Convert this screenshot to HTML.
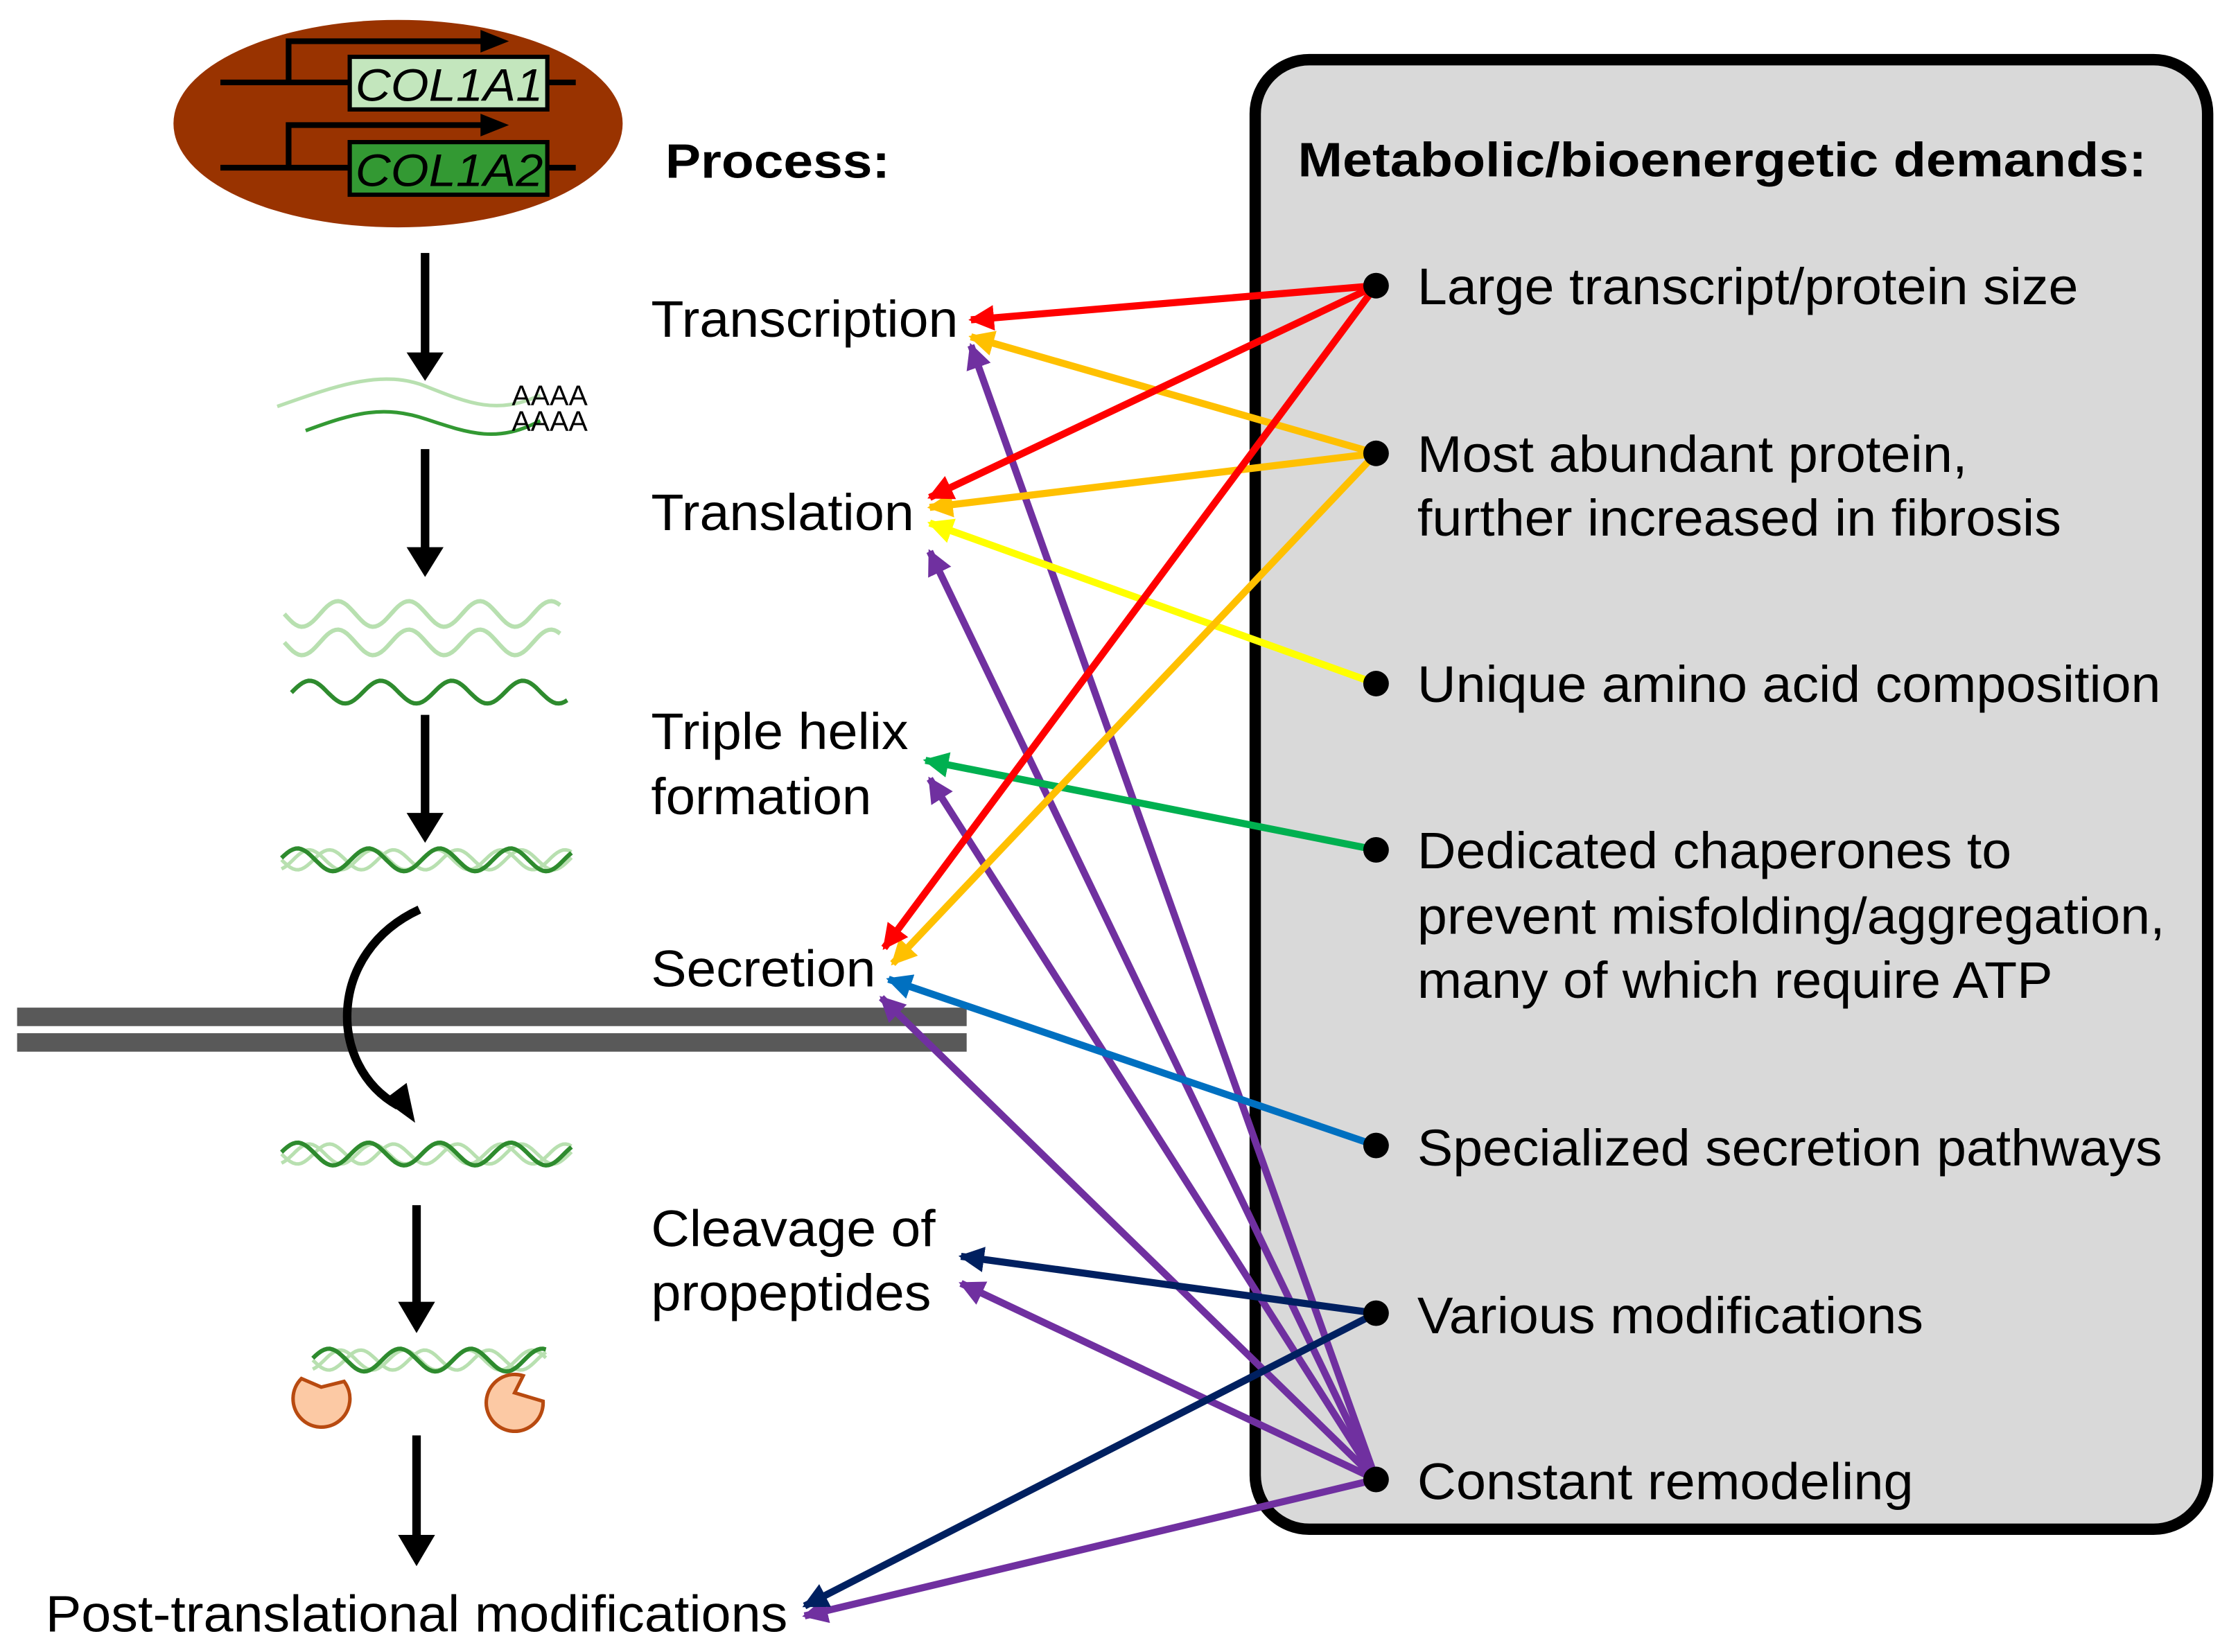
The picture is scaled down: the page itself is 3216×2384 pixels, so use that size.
<!DOCTYPE html>
<html><head><meta charset="utf-8"><style>html,body{margin:0;padding:0;background:#fff}svg{display:block}</style></head>
<body>
<svg id="s" xmlns="http://www.w3.org/2000/svg" width="3216" height="2384" viewBox="0 0 1568 1162.4" font-family="Liberation Sans, Arial, sans-serif">
<defs></defs>
<rect width="1568" height="1162.4" fill="#fff"/>
<ellipse cx="280" cy="87" rx="158" ry="73" fill="#993300"/>
<g stroke="#000" stroke-width="4" fill="none">
<line x1="155" y1="58" x2="405" y2="58"/><line x1="155" y1="118" x2="405" y2="118"/>
<polyline points="203,58 203,29 340,29"/><polyline points="203,118 203,88 340,88"/>
</g>
<path d="M338,21L358,29L338,37z M338,80L358,88L338,96z"/>
<rect x="246" y="40" width="139" height="37" fill="#c3e6bd" stroke="#000" stroke-width="3"/>
<rect x="246" y="100" width="139" height="37" fill="#339933" stroke="#000" stroke-width="3"/>
<text x="250" y="71" font-size="32" font-style="italic" textLength="132" lengthAdjust="spacingAndGlyphs">COL1A1</text>
<text x="250" y="131" font-size="32" font-style="italic" textLength="132" lengthAdjust="spacingAndGlyphs">COL1A2</text>
<g fill="#000">
<rect x="296" y="178" width="6" height="72"/><path d="M286,248L312,248L299,268z"/>
<rect x="296" y="316" width="6" height="72"/><path d="M286,385L312,385L299,406z"/>
<rect x="296" y="503" width="6" height="72"/><path d="M286,572L312,572L299,593z"/>
<rect x="290" y="848" width="6" height="70"/><path d="M280,916L306,916L293,938z"/>
<rect x="290" y="1010" width="6" height="72"/><path d="M280,1080L306,1080L293,1102z"/>
</g>
<path d="M195,286 C240,270 270,260 300,272 S350,292 380,278" stroke="#b8e0b0" stroke-width="2.5" fill="none"/>
<path d="M215,303 C250,290 270,285 300,295 S350,312 380,296" stroke="#339933" stroke-width="2.5" fill="none"/>
<text x="360" y="285" font-size="20">AAAA</text>
<text x="360" y="303" font-size="20">AAAA</text>
<g id="waves"></g>
<rect x="12" y="709" width="668" height="13" fill="#595959"/>
<rect x="12" y="727" width="668" height="13" fill="#595959"/>
<path d="M295,640 C230,670 230,750 280,778" stroke="#000" stroke-width="6" fill="none"/>
<path d="M270,774L292,790L286,762z"/>
<g fill="#fcc9a4" stroke="#b84a10" stroke-width="2.5">
<path d="M226,976 L212,970 A20,20 0 1,0 242,972 Z"/>
<path d="M362,980 L382,986 A20,20 0 1,1 368,968 Z"/>
</g>
<text x="468" y="125" font-size="34" font-weight="bold" textLength="158" lengthAdjust="spacingAndGlyphs">Process:</text>
<g font-size="36">
<text x="458" y="237" textLength="216" lengthAdjust="spacingAndGlyphs">Transcription</text>
<text x="458" y="373" textLength="185" lengthAdjust="spacingAndGlyphs">Translation</text>
<text x="458" y="527" textLength="181" lengthAdjust="spacingAndGlyphs">Triple helix</text>
<text x="458" y="573" textLength="155" lengthAdjust="spacingAndGlyphs">formation</text>
<text x="458" y="694" textLength="158" lengthAdjust="spacingAndGlyphs">Secretion</text>
<text x="458" y="877" textLength="200" lengthAdjust="spacingAndGlyphs">Cleavage of</text>
<text x="458" y="922" textLength="197" lengthAdjust="spacingAndGlyphs">propeptides</text>
<text x="32" y="1148" textLength="522" lengthAdjust="spacingAndGlyphs">Post-translational modifications</text>
</g>
<rect x="883" y="42" width="670" height="1034" rx="38" fill="#d9d9d9" stroke="#000" stroke-width="8"/>
<text x="913" y="124" font-size="34" font-weight="bold" textLength="597" lengthAdjust="spacingAndGlyphs">Metabolic/bioenergetic demands:</text>
<g font-size="36">
<text x="997" y="214" textLength="465" lengthAdjust="spacingAndGlyphs">Large transcript/protein size</text>
<text x="997" y="332" textLength="387" lengthAdjust="spacingAndGlyphs">Most abundant protein,</text>
<text x="997" y="377" textLength="453" lengthAdjust="spacingAndGlyphs">further increased in fibrosis</text>
<text x="997" y="494" textLength="523" lengthAdjust="spacingAndGlyphs">Unique amino acid composition</text>
<text x="997" y="611" textLength="418" lengthAdjust="spacingAndGlyphs">Dedicated chaperones to</text>
<text x="997" y="657" textLength="526" lengthAdjust="spacingAndGlyphs">prevent misfolding/aggregation,</text>
<text x="997" y="702" textLength="447" lengthAdjust="spacingAndGlyphs">many of which require ATP</text>
<text x="997" y="820" textLength="524" lengthAdjust="spacingAndGlyphs">Specialized secretion pathways</text>
<text x="997" y="938" textLength="356" lengthAdjust="spacingAndGlyphs">Various modifications</text>
<text x="997" y="1055" textLength="349" lengthAdjust="spacingAndGlyphs">Constant remodeling</text>
</g>
<g id="arrows"></g>
<g fill="#000">
<circle cx="968" cy="201" r="9"/><circle cx="968" cy="319" r="9"/><circle cx="968" cy="481" r="9"/>
<circle cx="968" cy="598" r="9"/><circle cx="968" cy="806" r="9"/><circle cx="968" cy="924" r="9"/><circle cx="968" cy="1041" r="9"/>
</g>
<script>
var NS="http://www.w3.org/2000/svg";
function el(p,t,a){var e=document.createElementNS(NS,t);for(var k in a)e.setAttribute(k,a[k]);p.appendChild(e);return e;}
var W=document.getElementById("waves");
function wave(x0,x1,y,amp,per,ph,col,w){var d="";for(var x=x0;x<=x1;x+=2){var yy=y+amp*Math.sin((x-x0)/per*2*Math.PI+ph);d+=(d?"L":"M")+x+","+yy.toFixed(1);}el(W,"path",{d:d,stroke:col,"stroke-width":w,fill:"none"});}
var L="#b8e0b0",D="#2e8b2e";
wave(200,395,432,9,50,0,L,3);wave(200,395,452,9,50,0,L,3);wave(205,400,487,8,50,3.1,D,3);
function helix(x0,x1,y){wave(x0,x1,y,7,45,0,L,2.5);wave(x0,x1,y,7,45,2,L,2.5);wave(x0,x1,y,8,50,3.3,D,3);}
helix(198,402,605);helix(198,402,812);helix(220,385,957);
var A=document.getElementById("arrows"),mk={};
function arr(x1,y1,x2,y2,c){if(!mk[c]){var d=document.querySelector("defs");var m=el(d,"marker",{id:"m"+c.slice(1),viewBox:"0 0 10 10",refX:"9",refY:"5",markerWidth:"3.6",markerHeight:"3.6",orient:"auto",markerUnits:"strokeWidth"});el(m,"path",{d:"M0,0L10,5L0,10z",fill:c});mk[c]=1;}
el(A,"line",{x1:x1,y1:y1,x2:x2,y2:y2,stroke:c,"stroke-width":5,"marker-end":"url(#m"+c.slice(1)+")"});}
var R="#ff0000",O="#ffc000",Y="#ffff00",G="#00b050",B="#0070c0",N="#002060",P="#7030a0";
arr(968,1041,683,243,P);arr(968,1041,654,388,P);arr(968,1041,654,548,P);arr(968,1041,620,702,P);arr(968,1041,676,903,P);arr(968,1041,566,1137,P);
arr(968,924,676,884,N);arr(968,924,566,1130,N);
arr(968,806,625,689,B);arr(968,598,651,535,G);arr(968,481,654,368,Y);
arr(968,319,683,237,O);arr(968,319,654,357,O);arr(968,319,628,678,O);
arr(968,201,683,225,R);arr(968,201,654,350,R);arr(968,201,622,667,R);
</script>
</svg>
</body></html>
